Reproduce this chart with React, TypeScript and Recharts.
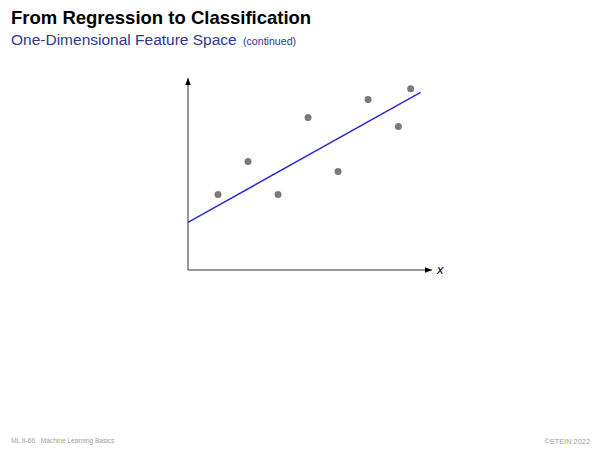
import React from "react";
import { ComposedChart, Scatter, XAxis, YAxis, ReferenceLine } from "recharts";

// sample points in the 1-D feature space (x, target y)
const featureX = [1, 2, 3, 4, 5, 6, 7.01, 7.42];
const targetY = [2.52, 3.62, 2.52, 5.08, 3.28, 5.68, 4.78, 6.04];

// fitted regression line: two end points
const fitX = [0, 7.75];
const fitY = [1.59, 5.92];

const xDomain = [0, 8.13];
const yDomain = [0, 6.4];

const points = featureX.map((x, i) => ({ x, y: targetY[i] }));
const fitSegment = fitX.map((x, i) => ({ x, y: fitY[i] }));

const sans = "'Liberation Sans', Arial, Helvetica, sans-serif";

export default function App() {
  return (
    <div
      style={{
        position: "absolute",
        left: 0,
        top: 0,
        width: 600,
        height: 450,
        background: "#fff",
        fontFamily: sans,
      }}
    >
      <div style={{ position: "absolute", left: 11, top: 7, fontSize: 18.5, fontWeight: "bold", color: "#000", whiteSpace: "nowrap" }}>
        From Regression to Classification
      </div>
      <div style={{ position: "absolute", left: 11, top: 31, fontSize: 15.5, color: "#2b3990", whiteSpace: "nowrap" }}>
        One-Dimensional Feature Space <span style={{ fontSize: 10.6, marginLeft: 2 }}>(continued)</span>
      </div>

      <div style={{ position: "absolute", left: 0, top: 0 }}>
        <ComposedChart
          width={600}
          height={450}
          margin={{ top: 78, right: 168, bottom: 179, left: 187 }}
        >
          <defs>
            <marker id="arrow" viewBox="0 0 10 10" refX="10" refY="5" markerWidth="7" markerHeight="7" markerUnits="userSpaceOnUse" orient="auto-start-reverse">
              <path d="M0,1 L10,5 L0,9 Z" fill="#000" />
            </marker>
          </defs>
          <XAxis
            type="number"
            dataKey="x"
            domain={xDomain}
            height={1}
            tick={false}
            tickLine={false}
            axisLine={{ stroke: "#333", strokeWidth: 1, markerEnd: "url(#arrow)" }}
          />
          <YAxis
            type="number"
            dataKey="y"
            domain={yDomain}
            width={1}
            tick={false}
            tickLine={false}
            axisLine={{ stroke: "#333", strokeWidth: 1, markerStart: "url(#arrow)" }}
          />
          <ReferenceLine
            segment={fitSegment}
            stroke="#2b2bd0"
            strokeWidth={1.5}
            ifOverflow="visible"
          />
          <Scatter data={points} fill="#7a7a7a" isAnimationActive={false} shape={(p: any) => <circle cx={p.cx} cy={p.cy} r={3.5} fill="#7a7a7a" />} />
        </ComposedChart>
      </div>

      <div style={{ position: "absolute", left: 437, top: 262, fontSize: 13, fontStyle: "italic", color: "#000" }}>x</div>

      <div style={{ position: "absolute", left: 11, top: 437, fontSize: 6.6, color: "#a0a0a0", whiteSpace: "nowrap" }}>
        ML:II-66&nbsp;&nbsp;&nbsp;Machine Learning Basics
      </div>
      <div style={{ position: "absolute", right: 10, top: 437, fontSize: 7.4, color: "#a0a0a0" }}>©STEIN 2022</div>
    </div>
  );
}
